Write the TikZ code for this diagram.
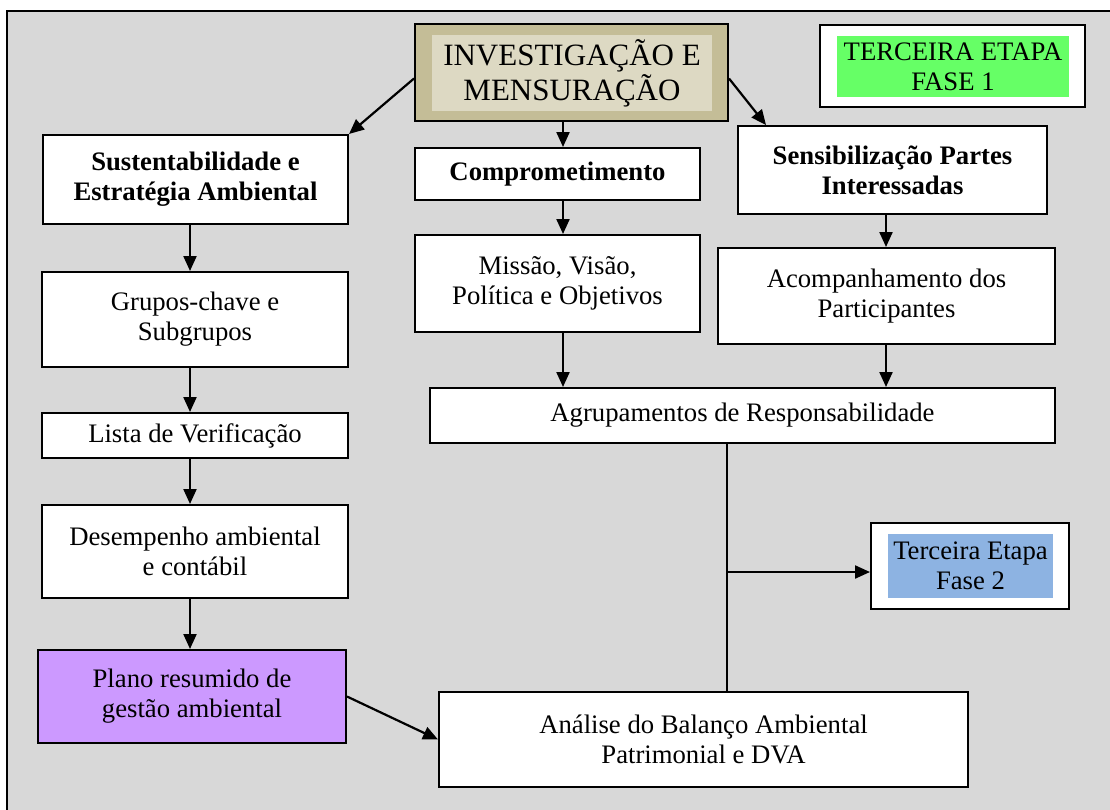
\documentclass[tikz,border=0pt]{standalone}
\usepackage{fontspec}
\setmainfont{Liberation Serif}
\usepackage{xcolor}
\usepackage{tikz}
\usetikzlibrary{arrows.meta}

\definecolor{bggray}{RGB}{216,216,216}
\definecolor{olivedark}{RGB}{196,189,151}
\definecolor{olivelight}{RGB}{221,217,195}
\definecolor{greenfill}{RGB}{102,255,102}
\definecolor{bluefill}{RGB}{141,179,226}
\definecolor{lilacfill}{RGB}{204,153,255}

\newcommand{\bodysize}{\fontsize{26.7}{30}\selectfont}
\newcommand{\titlesize}{\fontsize{31}{35}\selectfont}

\tikzset{
  stepbox/.style={draw, line width=2pt, fill=white, align=center, inner sep=0pt, font=\bodysize},
  fillbox/.style={inner sep=0pt, align=center, font=\bodysize},
  arr/.style={line width=2.2pt, -{Triangle[length=15pt,width=13pt]}},
}

\begin{document}
\begin{tikzpicture}[x=1pt, y=-1pt]
\useasboundingbox (0,0) rectangle (1110,809);
\clip (0,0) rectangle (1110,809);
% Draw background frame
\draw[line width=2pt, fill=bggray] (7,11) rectangle (1130,830);

% Title and phase boxes
\node[stepbox, fill=olivedark, minimum width=313pt, minimum height=97pt] (inv) at (571.5,72.5) {};
\node[fillbox, fill=olivelight, minimum width=280pt, minimum height=76pt, font=\titlesize] (invtext) at (572,73) {INVESTIGAÇÃO E\\MENSURAÇÃO};
\node[stepbox, minimum width=265pt, minimum height=82pt] (fase1) at (952.5,66) {};
\node[fillbox, fill=greenfill, minimum width=232pt, minimum height=61pt] (fase1text) at (953,66.5) {TERCEIRA ETAPA\\FASE 1};
\node[stepbox, minimum width=198pt, minimum height=86pt] (fase2) at (970,566) {};
\node[fillbox, fill=bluefill, minimum width=165pt, minimum height=64pt] (fase2text) at (970.5,566) {Terceira Etapa\\Fase 2};

% Left column
\node[stepbox, minimum width=305pt, minimum height=89pt] (sust) at (195.5,179.5) {\bfseries Sustentabilidade e\\\bfseries Estratégia Ambiental};
\node[stepbox, minimum width=306pt, minimum height=95pt] (grupos) at (195,319.5) {Grupos-chave e\\Subgrupos};
\node[stepbox, minimum width=306pt, minimum height=45pt] (lista) at (195,435.5) {Lista de Verificação};
\node[stepbox, minimum width=306pt, minimum height=93pt] (desemp) at (195,551.5) {Desempenho ambiental\\e contábil};
\node[stepbox, fill=lilacfill, minimum width=308pt, minimum height=93pt] (plano) at (192,696.5) {Plano resumido de\\gestão ambiental};

% Middle and right columns
\node[stepbox, minimum width=285pt, minimum height=52pt] (comp) at (557.5,174) {\bfseries Comprometimento};
\node[stepbox, minimum width=285pt, minimum height=97pt] (missao) at (557.5,283.5) {Missão, Visão,\\Política e Objetivos};
\node[stepbox, minimum width=309pt, minimum height=88pt] (sens) at (892.5,170) {\bfseries Sensibilização Partes\\\bfseries Interessadas};
\node[stepbox, minimum width=337pt, minimum height=96pt] (acomp) at (886.5,296) {Acompanhamento dos\\Participantes};
\node[stepbox, minimum width=625pt, minimum height=55pt] (agrup) at (742.5,415.5) {Agrupamentos de Responsabilidade};
\node[stepbox, minimum width=529pt, minimum height=95pt] (analise) at (703.5,739.5) {Análise do Balanço Ambiental\\Patrimonial e DVA};

% Connectors
\coordinate (leftcol) at (190,0);
\coordinate (midcol) at (563,0);
\coordinate (rightcol) at (886,0);
\coordinate (split) at (727,572);
\draw[arr] ([yshift=-6pt]inv.west) -- (sust.north east);
\draw[arr] (inv.south -| midcol) -- (comp.north -| midcol);
\draw[arr] ([yshift=-6pt]inv.east) -- ([xshift=29pt]sens.north west);
\foreach \a/\b in {sust/grupos, grupos/lista, lista/desemp, desemp/plano} {
    \draw[arr] (\a.south -| leftcol) -- (\b.north -| leftcol);
}
\draw[arr] (comp.south -| midcol) -- (missao.north -| midcol);
\draw[arr] (missao.south -| midcol) -- (agrup.north -| midcol);
\draw[arr] (sens.south -| rightcol) -- (acomp.north -| rightcol);
\draw[arr] (acomp.south -| rightcol) -- (agrup.north -| rightcol);
\draw[line width=2pt] (agrup.south -| split) -- (analise.north -| split);
\draw[arr] (split) -- (fase2.west |- split);
\draw[arr] (plano.east) -- (analise.west);
\end{tikzpicture}
\end{document}
